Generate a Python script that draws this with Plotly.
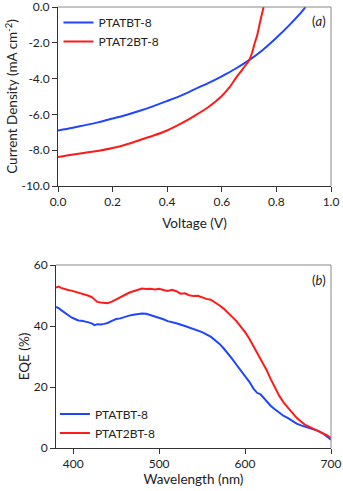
import plotly.graph_objects as go

# J-V characteristics (voltage in V, current density in mA cm^-2)
jv_voltage_a = [0.0, 0.05, 0.1, 0.15, 0.2, 0.25, 0.3, 0.35, 0.4, 0.45, 0.5, 0.55, 0.6,
                0.65, 0.7, 0.75, 0.8, 0.85, 0.9, 0.906]
jv_current_a = [-6.9, -6.76, -6.6, -6.43, -6.23, -6.03, -5.8, -5.54, -5.25, -4.95, -4.6,
                -4.25, -3.87, -3.45, -2.97, -2.4, -1.72, -0.97, -0.13, 0.0]

jv_voltage_b = [0.0, 0.05, 0.1, 0.15, 0.2, 0.25, 0.3, 0.35, 0.4, 0.45, 0.5, 0.55, 0.6,
                0.63, 0.65, 0.67, 0.69, 0.7, 0.71, 0.72, 0.73, 0.74, 0.75, 0.753]
jv_current_b = [-8.38, -8.25, -8.14, -8.03, -7.88, -7.68, -7.43, -7.18, -6.9, -6.52, -6.08,
                -5.6, -4.97, -4.45, -4.0, -3.6, -3.2, -2.97, -2.6, -2.05, -1.55, -0.85, -0.2, 0.0]

# External quantum efficiency spectra (wavelength in nm, EQE in %)
wl_a = [380, 383, 386, 390, 394, 398, 402, 406, 410, 414, 418, 422, 425, 428, 432, 436,
        440, 445, 450, 455, 460, 465, 470, 475, 480, 485, 490, 495, 500, 505, 510, 515,
        520, 530, 540, 550, 560, 565, 570, 575, 580, 585, 590, 595, 600, 605, 610, 614,
        618, 622, 626, 630, 635, 640, 645, 650, 655, 660, 665, 670, 675, 680, 685, 690,
        695, 700]
eqe_a = [46.3, 45.9, 45.2, 44.4, 43.6, 42.8, 42.3, 41.8, 41.7, 41.5, 41.2, 40.8, 40.3, 40.6,
         40.5, 40.7, 41.0, 41.7, 42.3, 42.5, 43.0, 43.4, 43.7, 43.9, 44.1, 44.0, 43.6, 43.1,
         42.7, 42.2, 41.6, 41.3, 40.9, 40.0, 39.0, 38.0, 36.5, 35.5, 34.2, 32.7, 31.1, 29.2,
         27.3, 25.5, 23.7, 21.7, 19.4, 18.1, 17.6, 16.3, 15.1, 13.8, 12.6, 11.5, 10.5, 9.8,
         8.8, 8.0, 7.4, 7.0, 6.6, 6.1, 5.6, 4.9, 3.9, 2.7]

wl_b = [380, 383, 386, 390, 394, 398, 402, 406, 410, 414, 418, 422, 425, 428, 432, 436,
        440, 445, 450, 455, 460, 465, 470, 475, 480, 485, 490, 495, 500, 505, 510, 515,
        520, 525, 530, 535, 540, 545, 550, 555, 560, 565, 570, 575, 580, 585, 590, 595,
        600, 605, 610, 615, 620, 625, 630, 635, 640, 645, 650, 655, 660, 665, 670, 675,
        680, 685, 690, 695, 700]
eqe_b = [52.6, 52.9, 52.5, 52.1, 51.8, 51.6, 51.3, 51.0, 50.7, 50.4, 49.9, 49.4, 48.6, 47.9,
         47.7, 47.5, 47.5, 48.0, 48.7, 49.6, 50.3, 50.9, 51.4, 51.9, 52.3, 52.1, 52.2, 52.0,
         52.2, 51.8, 51.5, 51.9, 51.4, 50.6, 50.7, 50.1, 49.8, 49.9, 49.3, 48.9, 48.6, 47.8,
         46.8, 45.7, 44.2, 43.0, 41.6, 39.9, 38.0, 35.8, 33.2, 30.7, 28.4, 25.6, 22.5, 19.7,
         17.0, 14.9, 13.2, 11.4, 9.9, 8.7, 7.6, 6.9, 6.3, 5.7, 4.9, 4.2, 3.3]

names = ["PTATBT-8", "PTAT2BT-8"]
colors = ["#1f45ff", "#ff1a1a"]

FONT = "Lato"
AXIS_COLOR = "#333333"
FRAME_COLOR = "#888888"

fig = go.Figure()

fig.add_trace(go.Scatter(x=jv_voltage_a, y=jv_current_a, name=names[0], mode="lines",
                         line=dict(color=colors[0], width=2, shape="spline", smoothing=0.6),
                         xaxis="x", yaxis="y", legend="legend"))
fig.add_trace(go.Scatter(x=jv_voltage_b, y=jv_current_b, name=names[1], mode="lines",
                         line=dict(color=colors[1], width=2, shape="spline", smoothing=0.6),
                         xaxis="x", yaxis="y", legend="legend"))
fig.add_trace(go.Scatter(x=wl_a, y=eqe_a, name=names[0], mode="lines",
                         line=dict(color=colors[0], width=2),
                         xaxis="x2", yaxis="y2", legend="legend2"))
fig.add_trace(go.Scatter(x=wl_b, y=eqe_b, name=names[1], mode="lines",
                         line=dict(color=colors[1], width=2),
                         xaxis="x2", yaxis="y2", legend="legend2"))

W, H = 343, 491
ml, mr, mt, mb = 56, 12, 7, 43
pw, ph = W - ml - mr, H - mt - mb

top_dom = [1 - (186 - mt) / ph, 1]
bot_dom = [0, (448 - 265) / ph]

common_axis = dict(showgrid=False, zeroline=False, showline=True, linecolor=AXIS_COLOR,
                   linewidth=1, ticks="outside", ticklen=5, tickwidth=1, automargin=False,
                   ticklabeloverflow="allow",
                   tickcolor=AXIS_COLOR, tickfont=dict(family=FONT, size=12, color="#222"),
                   title_font=dict(family=FONT, size=13.5, color="#222"))

legend_font = dict(family=FONT, size=12, color="#222")

fig.update_layout(
    width=W, height=H,
    margin=dict(l=ml, r=mr, t=mt, b=mb, autoexpand=False),
    paper_bgcolor="white", plot_bgcolor="white",
    font=dict(family=FONT, color="#222"),
    xaxis=dict(domain=[2 / pw, 1], range=[0, 1.0], tickvals=[0, 0.2, 0.4, 0.6, 0.8, 1.0],
               ticktext=["0.0", "0.2", "0.4", "0.6", "0.8", "1.0"], anchor="y",
               title=dict(text="Voltage (V)", standoff=10), **common_axis),
    yaxis=dict(domain=top_dom, range=[-10, 0], tickvals=[0, -2, -4, -6, -8, -10],
               ticktext=["0.0", "-2.0", "-4.0", "-6.0", "-8.0", "-10.0"], anchor="x",
               title=dict(text="Current Density (mA cm<sup>-2</sup>)", standoff=0), **common_axis),
    xaxis2=dict(domain=[0, 1], range=[380, 700], tickvals=[400, 500, 600, 700], anchor="y2",
                title=dict(text="Wavelength (nm)", standoff=4), **common_axis),
    yaxis2=dict(domain=bot_dom, range=[0, 60], tickvals=[0, 20, 40, 60], anchor="x2",
                title=dict(text="EQE (%)", standoff=0), **common_axis),
    legend=dict(x=0.009, y=0.998, xanchor="left", yanchor="top", bgcolor="rgba(0,0,0,0)",
                font=legend_font, itemwidth=30, tracegroupgap=0),
    legend2=dict(x=-0.004, y=0.110, xanchor="left", yanchor="top", bgcolor="rgba(0,0,0,0)",
                 font=legend_font, itemwidth=30, tracegroupgap=0),
    showlegend=True,
)

# grey top and right frame lines for both panels
for xref, yref in (("x domain", "y domain"), ("x2 domain", "y2 domain")):
    fig.add_shape(type="line", xref=xref, yref=yref, x0=0, x1=1, y0=1, y1=1,
                  line=dict(color=FRAME_COLOR, width=1))
    fig.add_shape(type="line", xref=xref, yref=yref, x0=1, x1=1, y0=0, y1=1,
                  line=dict(color=FRAME_COLOR, width=1))

# panel labels
for xref, yref, label in (("x domain", "y domain", "(<i>a</i>)"),
                          ("x2 domain", "y2 domain", "(<i>b</i>)")):
    fig.add_annotation(x=0.99, y=0.975, xref=xref, yref=yref, text=label,
                       showarrow=False, xanchor="right", yanchor="top",
                       font=dict(family=FONT, size=13, color="#222"))

fig.write_html("out.html")
